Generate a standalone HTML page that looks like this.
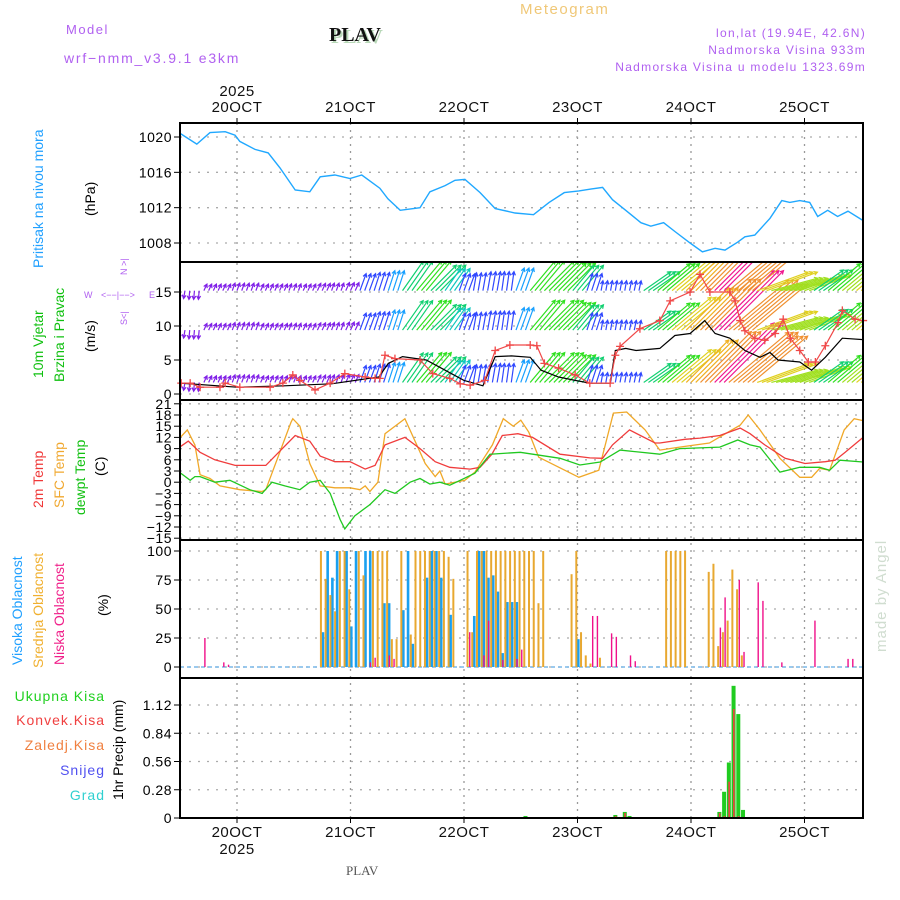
<!DOCTYPE html>
<html><head><meta charset="utf-8"><style>
body{margin:0;background:#fff}
svg{display:block;font-family:"Liberation Sans",sans-serif}
</style></head><body>
<svg id="c" width="900" height="900" xmlns="http://www.w3.org/2000/svg">
<defs><clipPath id="wclip"><rect x="180" y="263" width="683" height="136"/></clipPath></defs>
<g id="hdr">
<text x="520" y="14" fill="#f0c878" font-size="15" letter-spacing="1.5">Meteogram</text>
<text x="66" y="34" fill="#b060f0" font-size="13" letter-spacing="1.5">Model</text>
<text x="64" y="63" fill="#b060f0" font-size="14" letter-spacing="1.8">wrf−nmm_v3.9.1  e3km</text>
<text x="331" y="43" fill="#b8d8b8" font-size="20" font-weight="bold" font-family="Liberation Serif,serif">PLAV</text>
<text x="329" y="41" fill="#111" font-size="20" font-weight="bold" font-family="Liberation Serif,serif">PLAV</text>
<text x="866" y="37" fill="#b060f0" font-size="12" letter-spacing="1.3" text-anchor="end">lon,lat (19.94E, 42.6N)</text>
<text x="866" y="54" fill="#b060f0" font-size="12" letter-spacing="1.3" text-anchor="end">Nadmorska Visina 933m</text>
<text x="866" y="71" fill="#b060f0" font-size="12" letter-spacing="1.3" text-anchor="end">Nadmorska Visina u modelu 1323.69m</text>
<text x="346" y="875" fill="#555" font-size="13" font-family="Liberation Serif,serif">PLAV</text>
<text transform="translate(886,652) rotate(-90)" fill="#d0ddd0" font-size="15" letter-spacing="1">made by Angel</text>
</g>
<g id="lbl" font-size="14">
<text transform="translate(43,268) rotate(-90)" fill="#20a0ff">Pritisak na nivou mora</text>
<text transform="translate(95,216) rotate(-90)" fill="#000">(hPa)</text>
<text transform="translate(43,378) rotate(-90)" fill="#10c010">10m Vjetar</text>
<text transform="translate(64,382) rotate(-90)" fill="#10c010">Brzina i Pravac</text>
<text transform="translate(95,352) rotate(-90)" fill="#000">(m/s)</text>
<g fill="#b060f0" font-size="9"><text x="84" y="298">W</text><text x="101" y="298">&lt;−−|−−&gt;</text><text x="149" y="298">E</text><text transform="translate(127,275) rotate(-90)">N &gt;|</text><text transform="translate(127,325) rotate(-90)">S&lt;|</text></g>
<text transform="translate(43,508) rotate(-90)" fill="#f03838">2m Temp</text>
<text transform="translate(64,508) rotate(-90)" fill="#f0a830">SFC Temp</text>
<text transform="translate(85,515) rotate(-90)" fill="#10c010">dewpt Temp</text>
<text transform="translate(105,476) rotate(-90)" fill="#000">(C)</text>
<text transform="translate(22,665) rotate(-90)" fill="#20a0ff">Visoka Oblacnost</text>
<text transform="translate(43,668) rotate(-90)" fill="#f0b030">Srednja Oblacnost</text>
<text transform="translate(64,665) rotate(-90)" fill="#f0208a">Niska Oblacnost</text>
<text transform="translate(108,616) rotate(-90)" fill="#000">(%)</text>
<g text-anchor="end" letter-spacing="1">
<text x="105" y="701" fill="#20d020">Ukupna  Kisa</text>
<text x="105" y="725" fill="#f04040">Konvek.Kisa</text>
<text x="105" y="750" fill="#f08040">Zaledj.Kisa</text>
<text x="105" y="775" fill="#5050f0">Snijeg</text>
<text x="105" y="800" fill="#30d0d0">Grad</text></g>
<text transform="translate(123,800) rotate(-90)" fill="#000">1hr Precip (mm)</text>
</g>
</svg>
<script>
// ---------- data ----------
const dayLabels=["20OCT","21OCT","22OCT","23OCT","24OCT","25OCT"];
const presHours=[-12,-8.5,-5.7,-2.5,-0.4,0.6,3.8,6.6,9.1,12.3,15.4,17.6,20.7,23.9,26.4,30.2,31.9,34.5,38.7,40.8,44,46.1,48.2,51.4,54.6,58.8,62.7,66,69.2,72.3,74.8,77.3,79.4,82.2,85.4,87.5,90.2,92.6,95.8,98.4,101.1,103.2,105.9,107.4,109.5,112.7,115.2,116.9,119,121.1,122.8,124.9,127,129.2,132.2];
const presVals=[1020.4,1019.2,1020.5,1020.6,1020.2,1019.5,1018.6,1018.2,1016.5,1014,1013.8,1015.5,1015.7,1015.3,1015.7,1014.2,1013,1011.7,1012,1013.8,1014.5,1015.1,1015.2,1013.7,1011.9,1011.4,1011.2,1012.6,1013.7,1013.9,1014.1,1014.3,1012.9,1011.7,1010.3,1009.9,1010.3,1009.3,1008,1007,1007.4,1007.2,1008.1,1008.7,1008.9,1010.8,1012.8,1012.6,1012.8,1012.6,1011,1011.7,1011,1011.6,1010.6];
const presTicks=[1008,1012,1016,1020];

const windHours=[-12,-9,-6,-3,0,3,6,9,12,15,18,21,24,27,30,33,36,39,42,45,48,51,54,57,60,63,66,69,72,75,78,81,84,87,90,93,96,99,102,105,108,111,114,117,120,123,126,129,132];
const windSpd=[2,2.2,1.8,1.8,2,2,1.8,1.8,1.8,1.8,2,2,2.2,3,3.2,3.5,6,6.5,6,4.5,3,3,3.2,3.2,4,6.5,7,6.5,5.5,3,2.5,2.5,2.5,5.5,7,8.5,10,12,14,13,12,9,8,7.5,7.5,6,7,8,9];
const windDir=[-100,-95,65,65,70,70,65,65,70,65,65,70,65,70,72,72,55,50,45,55,70,80,80,82,70,50,45,45,50,72,80,80,78,35,40,40,45,45,45,40,40,20,15,15,20,35,40,40,40];
const windTicks=[0,5,10,15];
const rowLevels=[1.7,9.4,15.2];
const spdHours=[-11.8,-9.9,-7.8,-3.6,-2.5,0.6,7,9.7,11.8,13.3,16.5,19.7,22.8,27.1,29.2,30.2,31.3,33.4,38.7,41.4,45,47.2,49.3,52.4,54.6,57.7,62,63.4,65,68,71.5,74.6,78.9,80,81,85.2,89.4,91.6,95.8,97.9,100,104.2,105.3,106.4,107.4,109.5,111.6,113.8,115.5,117,119,120.8,122.3,124.4,127.1,128,130.7,132.4];
const spdVals=[1.6,1.6,1,1,1.6,1,1,1.6,2.8,2,0.6,1.6,3,2.5,2.3,2.3,5.7,5.2,5,3,2.3,1.5,1.3,2,6.4,7.2,7.2,7.1,4.5,3.8,2.8,1.6,1.6,5.7,7,9.6,10.8,13.7,15,17.6,15,15,13.7,10.8,9.3,8.2,7.9,8.9,11,8.2,6.4,4.7,4.7,7.1,10.5,12.3,11,10.8];
const gustHours=[-12,0,10,20,30,32,35,40,44,48,52,54.6,58,62,64.3,68,71.5,74.6,78.9,80,82.2,84.4,89.4,92.6,95.8,98.9,101.1,104.2,107.4,110.6,112.7,114.4,119,121.5,124.4,128,132.4];
const gustVals=[1.6,1,1.2,1.5,2.5,4.5,5.5,5,3.5,2,1.2,5.5,5.6,5.4,3.5,2.5,2,1.6,1.6,6.4,6.7,6.4,6.7,8.6,8.9,10.8,8.9,8.2,6.4,5.4,6.1,5,4.7,3.5,5.4,8.2,8];

const tHours=[-12,-10.3,-7.8,-4.7,-0.4,5.1,6.1,12.3,15.4,17.6,20.7,23.9,27.1,29.2,31.3,35.5,38.7,41.9,45,49.3,51.4,53.9,56.1,59.4,62.5,68.3,74.6,77.3,79.4,83,88.4,89.4,94.7,97.9,102.1,106.4,108.5,111.6,115.9,120.1,124.4,126.5,128.6,132.4];
const t2mVals=[9.5,11,8,6,4.5,4.5,4.5,12.5,11,7,5.5,5.5,3.5,4.5,10,12,9,5.5,4,3.5,4,7.5,12.5,13,12,7.5,6.5,6.4,10,14,10.5,10.5,11.5,11.8,12.5,14.5,13,10,6.4,5,5.5,5.9,8,12];
const sfcHours=[-12,-10.5,-8.9,-7.8,-5.7,-3.6,0.6,5.3,6.1,11.4,11.8,13.3,15.4,17.6,20.7,23.9,26,27.1,28.1,29.8,31.3,35.5,39.8,41.9,42.9,44,48.2,50.3,54,56.3,58.4,60,61.7,63.8,72.3,76.5,79.6,82.4,86.3,89.4,93.6,99.9,106.4,108.1,110.6,114.8,119,121.5,123.2,125.3,128.4,130.5,132.4];
const sfcVals=[12,14,10,2,1,-1,-2,-2.5,-2,16,17,15,5,-1,-1.5,-1.5,-2,-1,-2.5,0,13,17,5,1.5,3,-0.5,0.5,2.7,10,17,15,16.6,13.4,6.7,1.3,3.2,18.5,18.8,14,8.6,9.4,10.5,15.3,18,14,6.4,1.3,1.3,3.7,3.2,14,17,16.5];
const dewHours=[-12,-9.9,-8.9,-7.8,-4.7,-1.5,2.7,5.3,7.4,10.1,13.3,15.4,17.6,19.7,21.8,22.8,24.9,28.1,31.3,33.4,36.6,38.7,40.8,42.9,45,47.2,50.3,53.5,59.9,68.3,72.5,76.8,81,89.4,93.6,102.1,105.9,108.5,110.6,114.8,119,123.2,125.3,127.5,132.4];
const dewVals=[2.5,0.5,1.5,1.5,0,0.5,-2,-3,0,-1,-2,0,0.5,-3,-10,-12.5,-9,-6,-2,-3,0,1,-0.5,0,-0.8,0.5,2.4,7.5,8,6.4,4.6,5.4,8.6,7.5,9,9.4,11.3,10,9.4,2.7,4,4,3.2,5.9,5.4];
const tempTicks=[-15,-12,-9,-6,-3,0,3,6,9,12,15,18,21];

const midHours=[18,19,20,21,22,23,24,26,27,29,30,31,32,33,34,35,37,38,39,40,41,42,43,44,45,46,49,50,51,52,53,54,55,56,57,58,59,60,61,62,63,64,65,71,72,73,74,75,77,91,92,93,94,95,100,101,102,103,104,105,106,107];
const midVals=[100,76,62,48,100,100,67,100,79,100,100,100,100,24,24,100,28,100,100,100,100,100,100,100,95,76,100,30,100,100,100,100,100,100,100,100,100,100,100,100,100,55,100,80,100,30,10,3,8,100,100,100,100,100,82,89,18,30,40,84,67,10];
const highHours=[18,19,20,21,23,24,25,27,28,31,32,35,36,37,40,41,42,43,45,50,51,52,53,54,55,56,57,58,59,72];
const highVals=[30,100,77,100,100,35,100,100,100,55,55,49,100,20,77,100,100,77,45,44,100,100,77,79,65,12,56,56,56,24];
const lowHours=[-7,-3,-2,28,29,32,33,49,52,53,56,59,60,75,76,79,80,83,84,102,103,106,107,110,111,115,122,129,130];
const lowVals=[25,4,2,4,8,10,7,30,10,40,6,7,15,44,44,29,26,10,5,34,60,75,13,73,57,4,40,7,7];
const cloudTicks=[0,25,50,75,100];

const rainHours=[54,61,80,82,83,102,103,104,105,106,107,112,113,114];
const rainVals=[0.01,0.02,0.03,0.06,0.02,0.06,0.26,0.55,1.31,1.03,0.08,0.01,0.01,0.01];
const convHours=[80,82,102,103,104,105,106];
const convVals=[0.02,0.05,0.05,0.02,0.36,1.08,0.02];
const precTicks=[0,0.28,0.56,0.84,1.12];

// ---------- layout ----------
const NS="http://www.w3.org/2000/svg";
const svg=document.getElementById('c');
const X0=180,X1=863;
const xOf=h=>237+h*113.5/24;
function lin(d0,d1,p0,p1){return v=>p0+(v-d0)*(p1-p0)/(d1-d0);}
const yP=lin(1008,1020,243,137), yW=lin(0,15,394,292), yT=lin(-12,18,527,415), yC=lin(0,100,667,551), yR=lin(0,1.12,818,705);
const panels=[[123,262],[262,400],[400,540],[540,678],[678,818]];
function el(tag,attrs,parent){const e=document.createElementNS(NS,tag);for(const k in attrs)e.setAttribute(k,attrs[k]);(parent||svg).appendChild(e);return e;}
function path(hs,vs,ys){return hs.map((h,i)=>(i?'L':'M')+xOf(h).toFixed(1)+','+ys(vs[i]).toFixed(1)).join('');}

// grids
const grid=el('g',{});


for(let d=0;d<6;d++){const x=xOf(d*24);
 const gl=el('line',{x1:x,x2:x,y1:123,y2:818,stroke:'#999','stroke-dasharray':'2,5','stroke-width':1.3},grid);
 
 }
function hgrid(ticks,ys,fmt,nm){
 ticks.forEach(t=>{const y=ys(t);
  const l=el('line',{x1:X0,x2:X1,y1:y,y2:y,stroke:'#aaa','stroke-dasharray':'2,7','stroke-width':1.3},grid);
  
  
  el('line',{x1:X0-6,x2:X0,y1:y,y2:y,stroke:'#000'},grid);
  const tx=el('text',{x:X0-8,y:y+5,'text-anchor':'end','font-size':14,fill:'#000','letter-spacing':0.5},grid);
  tx.textContent=fmt(t);
  
  });}
hgrid(presTicks,yP,t=>t,'pressure');
hgrid(windTicks,yW,t=>t,'wind');
hgrid(tempTicks,yT,t=>t<0?'−'+(-t):t,'temp');
hgrid(cloudTicks,yC,t=>t,'cloud');
hgrid(precTicks,yR,t=>t===0?'0':t.toFixed(2),'precip');

// day labels
dayLabels.forEach((d,i)=>{const x=xOf(i*24);
 for(const [y,cl] of [[112,'top'],[837,'bottom']]){
  const t=el('text',{x:x,y:y,'text-anchor':'middle','font-size':15,fill:'#111','letter-spacing':0.5});
  t.textContent=d;
  
  }
 el('line',{x1:x,x2:x,y1:118,y2:123,stroke:'#000'});el('line',{x1:x,x2:x,y1:818,y2:823,stroke:'#000'});});
for(const [y,n] of [[96,'year-top'],[854,'year-bottom']]){const t=el('text',{x:xOf(0),y:y,'text-anchor':'middle','font-size':15,fill:'#111','letter-spacing':0.5});t.textContent='2025';
 
 }

// pressure
const pl=el('path',{d:path(presHours,presVals,yP),fill:'none',stroke:'#20a8ff','stroke-width':1.4});



// wind arrows
function wcol(s){return s<2.5?'#8020e8':s<3.5?'#3048ff':s<4.5?'#18a0ff':s<5.5?'#10c8c0':s<6.5?'#10d070':s<7.5?'#30e020':s<8.5?'#a0e020':s<9.5?'#e0d020':s<12?'#f0b020':s<13.5?'#f09030':'#f01890';}
const wg=el('g',{'clip-path':'url(#wclip)'});


rowLevels.forEach(lv=>{windHours.forEach((h,i)=>{
 const L=windSpd[i]*(windSpd[i]<3?4:6),a=windDir[i]*Math.PI/180,c=wcol(windSpd[i]);
 const dx=L*Math.cos(a),dy=-L*Math.sin(a);
 for(const o of [-1,0,1]){
  if(h+o<-12||h+o>132)continue;
  const x=xOf(h+o),y=yW(lv),x2=x+dx,y2=y+dy,ang=Math.atan2(dy,dx);
  const ar=el('path',{d:`M${x},${y}L${x2},${y2}M${x2-4*Math.cos(ang-0.5)},${y2-4*Math.sin(ang-0.5)}L${x2},${y2}L${x2-4*Math.cos(ang+0.5)},${y2-4*Math.sin(ang+0.5)}`,stroke:c,fill:'none','stroke-width':1.2},wg);
  
  
 }
});});
const gl2=el('path',{d:path(gustHours,gustVals,yW),fill:'none',stroke:'#000','stroke-width':1.2});


const sl=el('path',{d:path(spdHours,spdVals,yW),fill:'none',stroke:'#f04848','stroke-width':1.2});


spdHours.forEach((h,i)=>{const x=xOf(h),y=yW(spdVals[i]);
 const m=el('path',{d:`M${x-4},${y}h8M${x},${y-4}v8`,stroke:'#f04848','stroke-width':1.3});
 
 });

// temps
[[sfcHours,sfcVals,'#f0a828','sfc-temp-line'],[tHours,t2mVals,'#f03c3c','t2m-line'],[dewHours,dewVals,'#20c820','dewpoint-line']].forEach(([hs,vs,c,n])=>{
 const p=el('path',{d:path(hs,vs,yT),fill:'none',stroke:c,'stroke-width':1.3});
 
 });

// clouds
el('line',{x1:X0,x2:X1,y1:yC(0),y2:yC(0),stroke:'#7ab8e8','stroke-width':1.5,'stroke-dasharray':'4,3'});
function bars(hs,vs,ys,off,w,c,n){hs.forEach((h,i)=>{const x=xOf(h)+off,y=ys(vs[i]),y0=ys(0);
 const r=el('rect',{x:x,y:y,width:w,height:Math.max(0.5,y0-y),fill:c});
 
 });}
bars(highHours,highVals,yC,-0.5,2.6,'#1aa0f0','high-cloud-bar');
bars(midHours,midVals,yC,-2.2,2,'#e8a830','mid-cloud-bar');
bars(lowHours,lowVals,yC,0.3,1.4,'#f0108a','low-cloud-bar');

// precip
bars(rainHours,rainVals,yR,-2,4,'#20cc20','total-precip-bar');
bars(convHours,convVals,yR,-0.5,1.6,'#f04040','convective-precip-bar');

// frames
panels.forEach(([a,b],i)=>{const r=el('rect',{x:X0,y:a,width:X1-X0,height:b-a,fill:'none',stroke:'#000','stroke-width':2});
 
 });
</script>
</body></html>
